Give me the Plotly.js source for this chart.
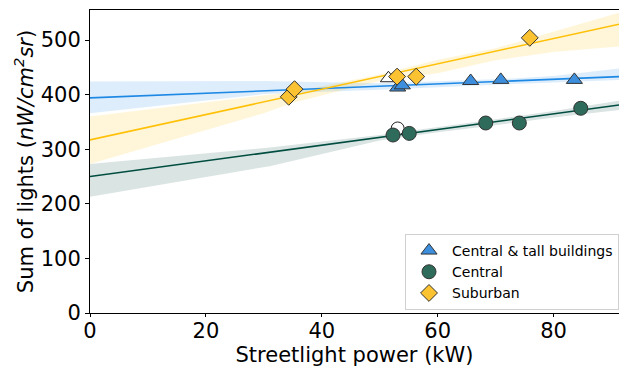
<!DOCTYPE html>
<html>
<head>
<meta charset="utf-8">
<script src="https://cdn.plot.ly/plotly-3.0.1.min.js"></script>
<style>html,body{margin:0;padding:0;background:#fff;}#chart{width:619px;height:367px;}</style>
</head>
<body>
<div id="chart"></div>
<script>
// ---- data ----
const tallX = [53.1, 53.9, 65.7, 70.9, 83.6];
const tallY = [413, 417, 425, 427, 427];
const centralX = [52.3, 55.1, 68.3, 74.1, 84.7];
const centralY = [326, 329, 348, 348, 375];
const suburbX = [34.3, 35.3, 53.0, 56.3, 75.9];
const suburbY = [396, 410, 433, 433, 504];
// hollow (outline-only) markers
const hollowTriX = [51.5];
const hollowTriY = [430];
const hollowCircX = [53.1];
const hollowCircY = [338];

// regression lines (end points)
const fitX = [0, 91.3];
const tallFit = [394, 433];
const centralFit = [250, 381];
const suburbFit = [317, 529];

// confidence bands
const tallBandX = [0, 30, 50, 60, 70, 80, 91.3];
const tallUpper = [424, 425, 421, 424, 428, 434, 448];
const tallLower = [366, 401, 409, 414, 418, 422, 427];
const subBandX = [0, 30, 35, 50, 60, 70, 80, 91.3];
const subUpper = [360, 399, 405, 437, 464, 485, 515, 550];
const subLower = [273, 366, 385, 425, 439, 463, 478, 488];
const cenBandX = [0, 31, 50, 60, 70, 80, 91.3];
const cenUpper = [273, 303, 326, 340, 355, 370, 389];
const cenLower = [213, 269, 316, 331, 344, 358, 372];

const xTicks = [0, 20, 40, 60, 80];
const yTicks = [0, 100, 200, 300, 400, 500];

const blueLine = '#1e88e5', blueFill = '#3d8fdd', blueBand = 'rgba(30,136,229,0.15)';
const greenLine = '#004d40', greenFill = '#2e6b5a', greenBand = 'rgba(0,77,64,0.15)';
const yelLine = '#ffc107', yelFill = '#fbc231', yelBand = 'rgba(255,193,7,0.15)';

function band(x, lo, hi, col) {
  return [
    {x: x, y: lo, mode: 'lines', line: {width: 0}, showlegend: false, hoverinfo: 'skip'},
    {x: x, y: hi, mode: 'lines', line: {width: 0}, fill: 'tonexty', fillcolor: col, showlegend: false, hoverinfo: 'skip'}
  ];
}

const edge = {color: '#333', width: 1};
const traces = [
  ...band(tallBandX, tallLower, tallUpper, blueBand),
  ...band(subBandX, subLower, subUpper, yelBand),
  ...band(cenBandX, cenLower, cenUpper, greenBand),
  {x: fitX, y: tallFit, mode: 'lines', line: {color: blueLine, width: 1.6}, showlegend: false},
  {x: fitX, y: centralFit, mode: 'lines', line: {color: greenLine, width: 1.6}, showlegend: false},
  {x: fitX, y: suburbFit, mode: 'lines', line: {color: yelLine, width: 1.6}, showlegend: false},
  {x: hollowTriX, y: hollowTriY, mode: 'markers', showlegend: false,
   marker: {symbol: 'triangle-up', size: 14, color: 'white', line: {color: '#222', width: 1}}},
  {x: hollowCircX, y: hollowCircY, mode: 'markers', showlegend: false,
   marker: {symbol: 'circle', size: 13, color: 'white', line: {color: '#222', width: 1}}},
  {x: tallX, y: tallY, mode: 'markers', name: 'Central &amp; tall buildings', legendrank: 1,
   marker: {symbol: 'triangle-up', size: 14, color: blueFill, line: edge}},
  {x: centralX, y: centralY, mode: 'markers', name: 'Central', legendrank: 2,
   marker: {symbol: 'circle', size: 14, color: greenFill, line: edge}},
  {x: suburbX, y: suburbY, mode: 'markers', name: 'Suburban', legendrank: 3,
   marker: {symbol: 'diamond', size: 13, color: yelFill, line: edge}}
];

const ff = 'DejaVu Sans, sans-serif';

const layout = {
  width: 619, height: 367,
  margin: {l: 90, r: 0, t: 10, b: 54},
  paper_bgcolor: 'white', plot_bgcolor: 'white',
  font: {family: ff, color: '#000'},
  showlegend: true,
  legend: {
    x: 1, xanchor: 'right', y: 0.01, yanchor: 'bottom',
    bgcolor: 'white', bordercolor: '#d0d0d0', borderwidth: 1,
    font: {family: ff, size: 14, color: '#000'},
    itemwidth: 36,
    traceorder: 'normal'
  },
  xaxis: {
    range: [0, 91.3], tickvals: xTicks, ticktext: xTicks.map(String),
    showgrid: false, zeroline: false,
    showline: true, linecolor: '#000', linewidth: 1, mirror: true,
    ticks: 'outside', ticklen: 3, tickcolor: '#000',
    ticklabelstandoff: -4,
    tickfont: {family: ff, size: 21, color: '#000'},
    title: {text: 'Streetlight power (kW)', font: {family: ff, size: 21, color: '#000'}, standoff: 1}
  },
  yaxis: {
    range: [0, 555], tickvals: yTicks, ticktext: yTicks.map(String),
    showgrid: false, zeroline: false,
    showline: true, linecolor: '#000', linewidth: 1,
    ticks: 'outside', ticklen: 4, tickcolor: '#000',
    tickfont: {family: ff, size: 21, color: '#000'},
    title: {text: 'Sum of lights (<i>nW/cm<sup>2</sup>sr</i>)', font: {family: ff, size: 21, color: '#000'}, standoff: 1}
  }
};

Plotly.newPlot('chart', traces, layout, {displayModeBar: false, staticPlot: true});
</script>
</body>
</html>
